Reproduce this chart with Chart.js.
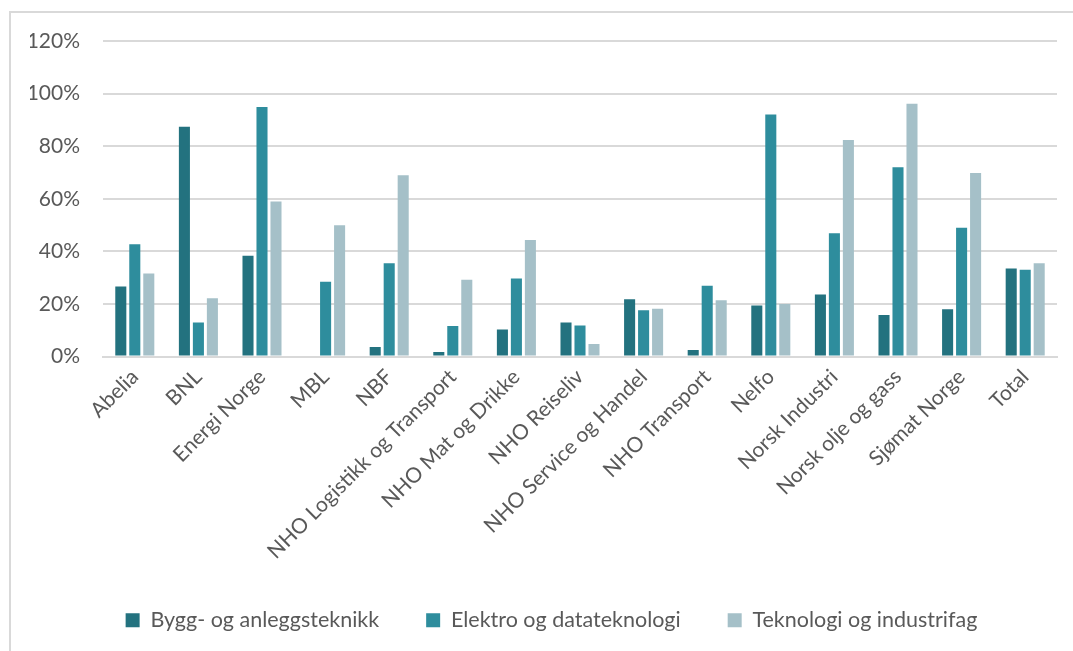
<!DOCTYPE html>
<html>
<head>
<meta charset="utf-8">
<script src="https://cdn.jsdelivr.net/npm/chart.js@4.4.1/dist/chart.umd.min.js"></script>
<style>
  html, body { margin: 0; padding: 0; background: #fff; overflow: hidden; }
  #wrap { position: relative; width: 1073px; height: 651px; }
  #frame { position: absolute; left: 9px; top: 11px; width: 1200px; height: 800px;
           border-left: 2px solid #d9d9d9; border-top: 2px solid #d9d9d9; box-sizing: border-box; }
  canvas { position: absolute; left: 0; top: 0; }
</style>
</head>
<body>
<div id="wrap">
  <div id="frame"></div>
  <canvas id="c" width="1073" height="651"></canvas>
</div>
<script>
const categories = ["Abelia", "BNL", "Energi Norge", "MBL", "NBF", "NHO Logistikk og Transport",
  "NHO Mat og Drikke", "NHO Reiseliv", "NHO Service og Handel", "NHO Transport", "Nelfo",
  "Norsk Industri", "Norsk olje og gass", "Sjømat Norge", "Total"];
const seriesNames = ["Bygg- og anleggsteknikk", "Elektro og datateknologi", "Teknologi og industrifag"];
const bygg     = [26.6, 87.4, 38.3, 0,    3.6,  1.7,  10.3, 12.9, 21.8, 2.5,  19.4, 23.6, 15.8, 18.0, 33.5];
const elektro  = [42.7, 12.9, 94.9, 28.4, 35.5, 11.6, 29.7, 11.8, 17.6, 26.9, 92.0, 46.9, 72.0, 49.0, 33.0];
const teknologi= [31.6, 22.2, 59.0, 49.9, 68.9, 29.2, 44.3, 4.8,  18.2, 21.4, 20.0, 82.3, 96.1, 69.8, 35.5];
const yTicks = [0, 20, 40, 60, 80, 100, 120];
const colors = ["#23727F", "#2E8D9D", "#A5C0C8"];

const FONT = "Lato, 'Open Sans', sans-serif";
const TEXT = "#595959";

new Chart(document.getElementById("c"), {
  type: "bar",
  data: {
    labels: categories,
    datasets: [bygg, elektro, teknologi].map((d, i) => ({
      label: seriesNames[i],
      data: d,
      backgroundColor: colors[i],
      borderWidth: 0,
      categoryPercentage: 0.66,
      barPercentage: 0.79
    }))
  },
  options: {
    responsive: false,
    animation: false,
    layout: { padding: { left: 30, right: 0, top: 41, bottom: 10 } },
    plugins: {
      tooltip: { enabled: false },
      legend: {
        position: "bottom",
        labels: {
          font: { family: FONT, size: 21.5 },
          color: TEXT,
          boxWidth: 14, boxHeight: 14,
          padding: 47,
          generateLabels(chart) {
            return chart.data.datasets.map((ds, i) => ({
              text: ds.label, fillStyle: ds.backgroundColor, strokeStyle: ds.backgroundColor,
              lineWidth: 0, datasetIndex: i, fontColor: TEXT, hidden: false
            }));
          }
        }
      }
    },
    scales: {
      x: {
        grid: { display: false, drawTicks: false },
        border: { display: true, color: "#d9d9d9", width: 2 },
        ticks: {
          font: { family: FONT, size: 21 }, color: TEXT,
          maxRotation: 45, minRotation: 45, padding: 8, autoSkip: false
        },
        afterFit(scale) { scale.height = 206; }
      },
      y: {
        min: 0, max: 120,
        afterBuildTicks(scale) { scale.ticks = yTicks.map(v => ({ value: v })); },
        grid: { color: "#d9d9d9", lineWidth: 2, drawTicks: false },
        border: { display: false },
        ticks: {
          font: { family: FONT, size: 21 }, color: TEXT, padding: 23,
          callback: v => v + "%"
        },
        afterFit(scale) { scale.width = 73; }
      },
      yr: {
        position: "right",
        display: true,
        grid: { display: false, drawTicks: false },
        border: { display: false },
        ticks: { display: false },
        afterFit(scale) { scale.width = 16; }
      }
    }
  }
});
</script>
</body>
</html>
